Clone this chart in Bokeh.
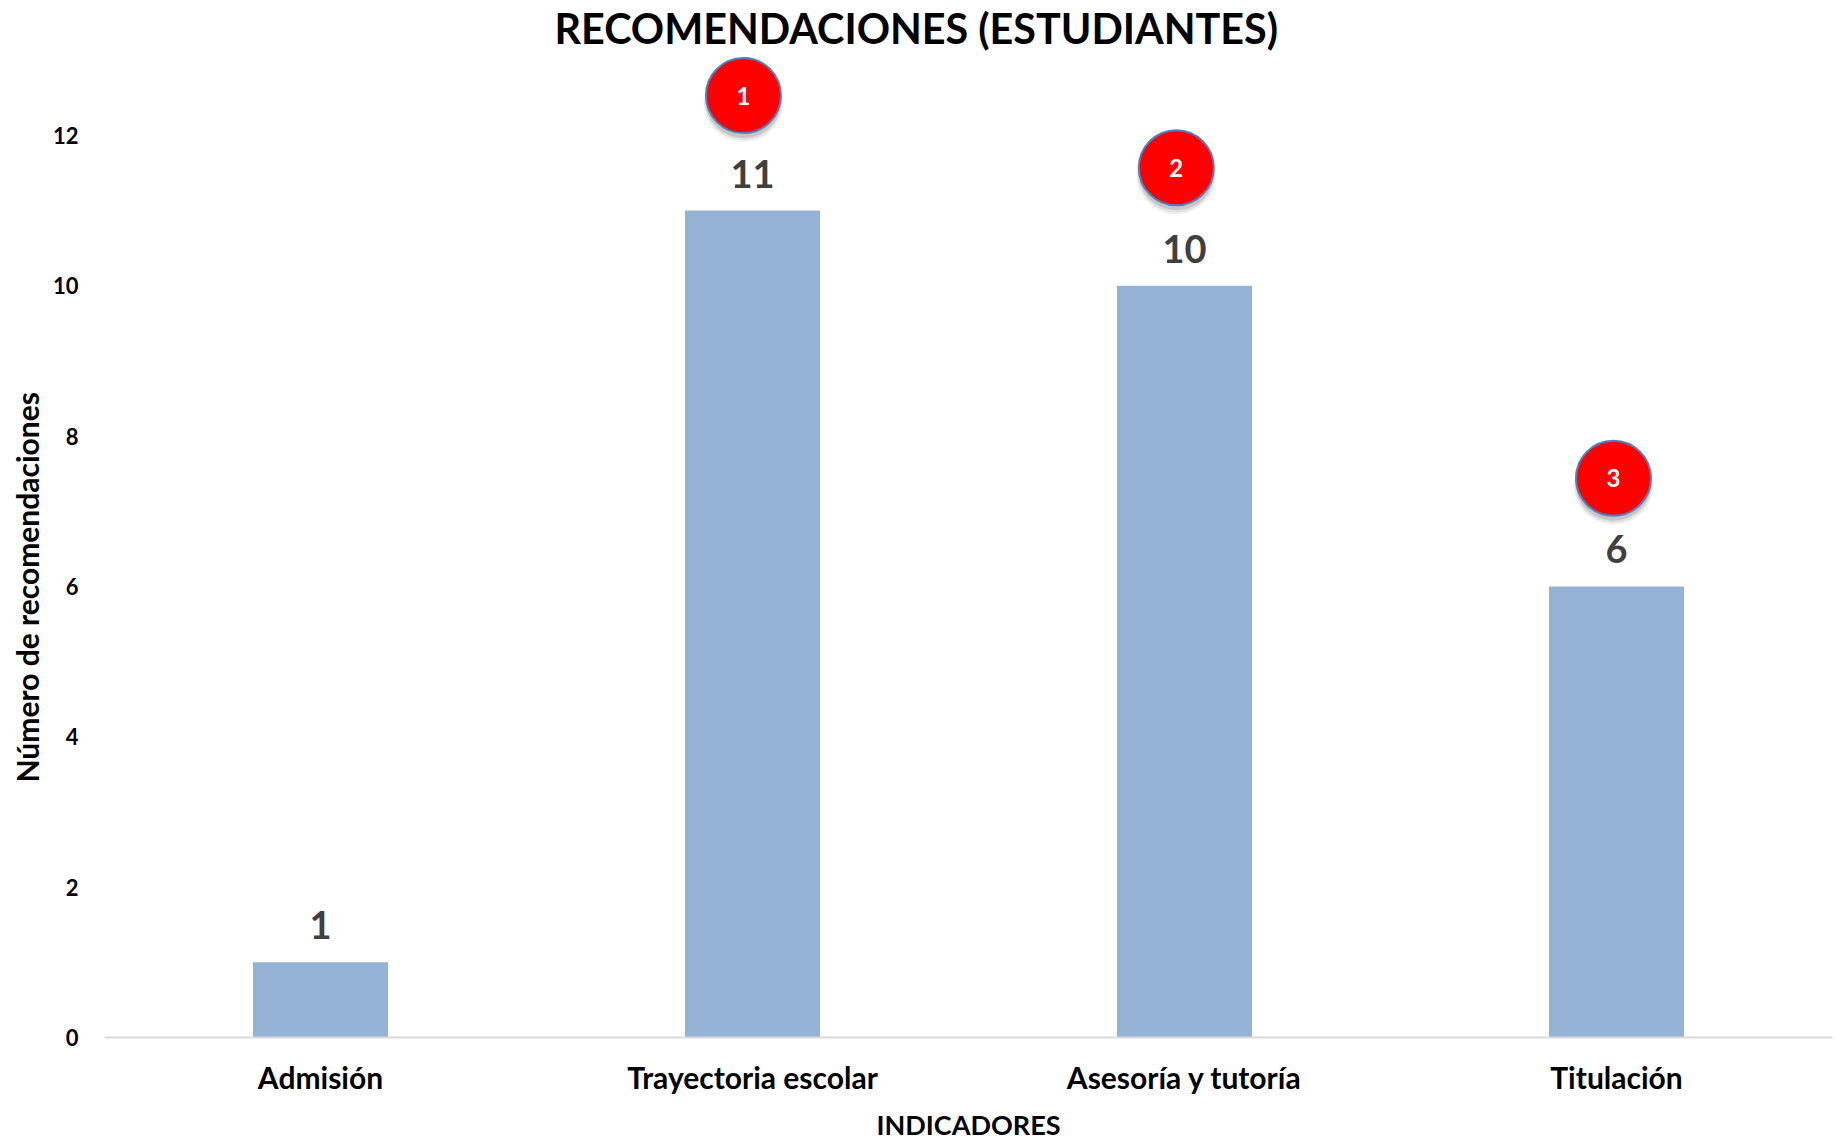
from bokeh.embed import file_html
from bokeh.resources import INLINE
from bokeh.models import ColumnDataSource, FixedTicker, Range1d, Title
from bokeh.plotting import figure
from bokeh.transform import dodge
from bokeh.core.properties import value

TITLE = "RECOMENDACIONES (ESTUDIANTES)"
X_TITLE = "INDICADORES"
Y_TITLE = "Número de recomendaciones"
categories = ["Admisión", "Trayectoria escolar", "Asesoría y tutoría", "Titulación"]
values = [1, 11, 10, 6]
y_ticks = [0, 2, 4, 6, 8, 10, 12]
badge_labels = ["1", "2", "3"]
badge_x = [1.479, 2.481, 3.493]
badge_y = [12.53, 11.57, 7.44]

FONT = "Lato"
x_pos = [i + 0.5 for i in range(len(categories))]
src = ColumnDataSource(dict(x=x_pos, top=values, label=[str(v) for v in values]))
bsrc = ColumnDataSource(dict(x=badge_x, y=badge_y, label=badge_labels))

p = figure(
    width=1837, height=1139, output_backend="svg", toolbar_location=None,
    x_range=Range1d(0, 4), y_range=Range1d(0, 13.05),
    frame_width=1728, frame_height=981,
    min_border_left=104, min_border_right=5, min_border_top=56, min_border_bottom=0,
    background_fill_color="white", border_fill_color="white", outline_line_color=None,
)
p.grid.visible = False

p.vbar(x="x", top="top", bottom=0, width=0.3125, source=src,
       fill_color="#95B3D7", line_color=None)
p.text(x="x", y="top", text="label", source=src, y_offset=-37,
       text_align="center", text_baseline="alphabetic",
       text_font=value(FONT), text_font_size="38px", text_font_style="bold",
       text_color="#404040")

# soft shadow beneath the badges
for dy, extra, alpha in [(-0.09, 4, 0.07), (-0.075, 2, 0.10), (-0.06, 0, 0.16)]:
    p.scatter(x="x", y=dodge("y", dy), source=bsrc, size=76 + extra, marker="circle",
              fill_color="#404040", fill_alpha=alpha, line_color=None)
p.scatter(x="x", y="y", source=bsrc, size=75, marker="circle",
          fill_color="#FF0000", line_color="#4F81BD", line_width=2)
p.text(x="x", y="y", text="label", source=bsrc, text_align="center",
       text_baseline="middle", text_font=value(FONT), text_font_size="24px",
       text_font_style="bold", text_color="white")

xa = p.xaxis[0]
xa.ticker = FixedTicker(ticks=x_pos)
xa.major_label_overrides = {x: c for x, c in zip(x_pos, categories)}
xa.major_tick_line_color = None
xa.minor_tick_line_color = None
xa.axis_line_color = "#D9D9D9"
xa.axis_line_width = 2
xa.major_label_standoff = 15
xa.major_label_text_font = FONT
xa.major_label_text_font_size = "30px"
xa.major_label_text_font_style = "bold"
xa.major_label_text_color = "black"
xa.axis_label = X_TITLE
xa.axis_label_standoff = 10
xa.axis_label_text_font = FONT
xa.axis_label_text_font_size = "27px"
xa.axis_label_text_font_style = "bold"
xa.axis_label_text_color = "black"

ya = p.yaxis[0]
ya.ticker = FixedTicker(ticks=y_ticks)
ya.major_tick_line_color = None
ya.minor_tick_line_color = None
ya.axis_line_color = None
ya.major_label_standoff = 20
ya.major_label_text_font = FONT
ya.major_label_text_font_size = "22px"
ya.major_label_text_font_style = "bold"
ya.major_label_text_color = "black"

p.add_layout(Title(text=TITLE, align="left", offset=450, standoff=4, vertical_align="top",
                   text_font=FONT, text_font_size="41.3px", text_font_style="bold",
                   text_color="black"), "above")
p.add_layout(Title(text=Y_TITLE, align="left", offset=255, standoff=10, text_font=FONT,
                   text_font_size="30px", text_font_style="bold", text_color="black"), "left")

open("out.html", "w").write(file_html(p, INLINE))
